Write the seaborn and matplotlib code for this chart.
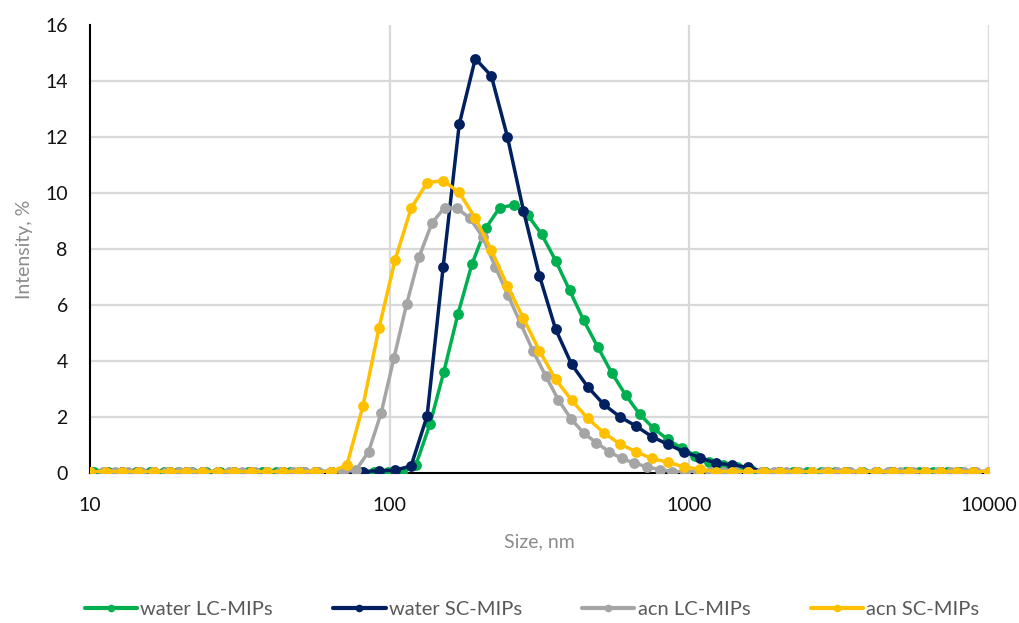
import numpy as np
import pandas as pd
import matplotlib
matplotlib.use("Agg")
import matplotlib.pyplot as plt
from matplotlib.lines import Line2D
import seaborn as sns

# Size classes (nm) used by each measurement: log-spaced bin centres
sizes_sc = np.geomspace(10, 10000, 57)        # water SC-MIPs, acn SC-MIPs
sizes_acn_lc = np.geomspace(10, 10000, 72)    # acn LC-MIPs
sizes_water_lc = np.geomspace(10.35, 10000, 65)  # water LC-MIPs

# Intensity distributions, %
water_lc = [0.05] * 23 + [
    0.3, 1.74, 3.62, 5.67, 7.45, 8.75, 9.48, 9.57, 9.21, 8.52, 7.58, 6.52,
    5.45, 4.51, 3.58, 2.79, 2.10, 1.60, 1.20, 0.89, 0.62, 0.40, 0.29, 0.20,
    0.12] + [0.05] * 17

water_sc = [0.05] * 18 + [
    0.08, 0.1, 0.25, 2.04, 7.37, 12.45, 14.8, 14.18, 12.01, 9.37, 7.04, 5.14,
    3.88, 3.08, 2.45, 2.01, 1.68, 1.30, 1.02, 0.76, 0.55, 0.35, 0.29, 0.20] + [0.05] * 15

acn_lc = [0.05] * 21 + [
    0.1, 0.76, 2.15, 4.10, 6.02, 7.73, 8.92, 9.48, 9.45, 9.10, 8.44, 7.37,
    6.36, 5.35, 4.35, 3.46, 2.60, 1.93, 1.42, 1.08, 0.76, 0.52, 0.35, 0.22,
    0.12] + [0.05] * 26

acn_sc = [0.05] * 16 + [
    0.28, 2.39, 5.17, 7.60, 9.45, 10.37, 10.44, 10.02, 9.10, 7.96, 6.68, 5.52,
    4.36, 3.35, 2.60, 1.95, 1.44, 1.04, 0.76, 0.52, 0.38, 0.22, 0.13] + [0.05] * 18

series_names = ["water LC-MIPs", "water SC-MIPs", "acn LC-MIPs", "acn SC-MIPs"]
series_sizes = [sizes_water_lc, sizes_sc, sizes_acn_lc, sizes_sc]
series_values = [water_lc, water_sc, acn_lc, acn_sc]
colors = ["#00B050", "#002060", "#A5A5A5", "#FFC000"]

y_ticks = [0, 2, 4, 6, 8, 10, 12, 14, 16]
x_ticks = [10, 100, 1000, 10000]
x_tick_labels = ["10", "100", "1000", "10000"]

frames = []
for name, xs, ys in zip(series_names, series_sizes, series_values):
    frames.append(pd.DataFrame({"size": xs, "intensity": ys, "series": name}))
df = pd.concat(frames, ignore_index=True)

sns.set_theme(style="white")
plt.rcParams["font.family"] = ["Lato", "DejaVu Sans"]

fig = plt.figure(figsize=(10.19, 6.23), dpi=100)
ax = fig.add_axes([90 / 1019, 150 / 623, 899 / 1019, 448 / 623])

ax.set_xscale("log")
sns.lineplot(data=df, x="size", y="intensity", hue="series",
             hue_order=series_names, palette=colors, sort=False,
             estimator=None, linewidth=2.5, marker="o", markersize=7.8,
             markeredgewidth=0, legend=False, ax=ax, zorder=3)

ax.set_xlim(10, 10000)
ax.set_ylim(0, 16)
ax.set_yticks(y_ticks)
ax.set_xticks(x_ticks)
ax.set_xticklabels(x_tick_labels)
ax.minorticks_off()
ax.tick_params(axis="both", length=0, labelsize=14, colors="#111111")
ax.tick_params(axis="y", pad=16)
ax.tick_params(axis="x", pad=17)

# light gridlines
for yv in y_ticks[1:-1]:
    ax.axhline(yv, color="#D9D9D9", lw=1.6, zorder=1)
for xv in [100, 1000, 10000]:
    ax.axvline(xv, color="#D9D9D9", lw=1.6, zorder=1)

for side in ["top", "right"]:
    ax.spines[side].set_visible(False)
for side in ["left", "bottom"]:
    ax.spines[side].set_color("#000000")
    ax.spines[side].set_linewidth(1.5)
    ax.spines[side].set_zorder(2)

ax.set_xlabel("Size, nm", fontsize=14, color="#8C8C8C", labelpad=14)
ax.set_ylabel("Intensity, %", fontsize=14, color="#8C8C8C", labelpad=9)

handles = [Line2D([0], [0], color=c, lw=3, marker="o", markersize=5.5,
                  markeredgewidth=0) for c in colors]
fig.legend(handles, series_names, loc="center", bbox_to_anchor=(0.522, 0.021),
           ncol=4, frameon=False, fontsize=14.5, handlelength=2.6,
           handletextpad=0.15, columnspacing=3.0,
           labelcolor="#595959")

fig.savefig("out.png", dpi=100)
